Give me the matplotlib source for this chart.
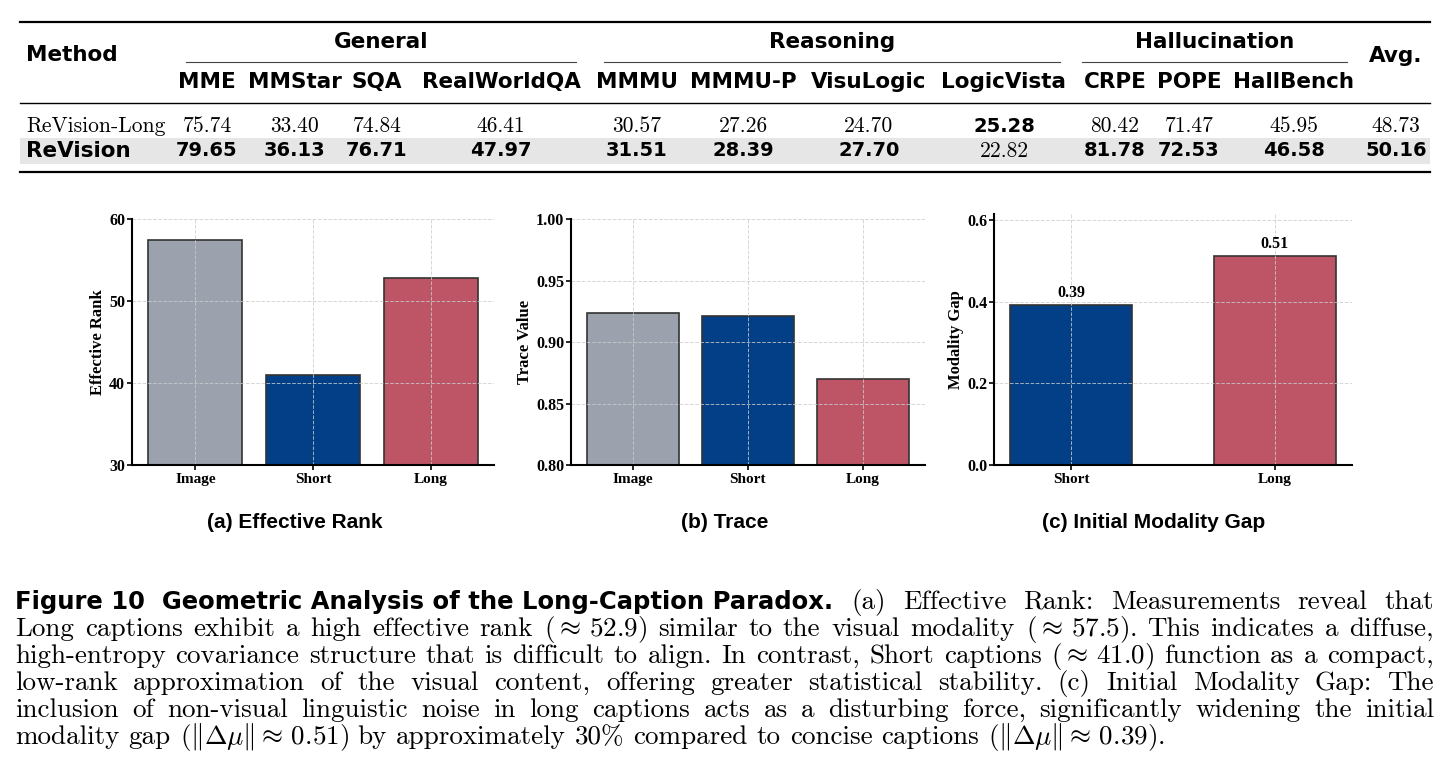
import matplotlib
matplotlib.use('Agg')
import matplotlib.pyplot as plt
from matplotlib.patches import Rectangle
from matplotlib.ticker import FormatStrFormatter

# ---- table: benchmark scores
benchmarks = ['MME', 'MMStar', 'SQA', 'RealWorldQA', 'MMMU', 'MMMU-P',
              'VisuLogic', 'LogicVista', 'CRPE', 'POPE', 'HallBench']
groups = ['General', 'Reasoning', 'Hallucination']
group_cols = [(0, 3), (4, 7), (8, 10)]
methods = ['ReVision-Long', 'ReVision']
scores_long = [75.74, 33.40, 74.84, 46.41, 30.57, 27.26, 24.70, 25.28, 80.42, 71.47, 45.95]
scores_full = [79.65, 36.13, 76.71, 47.97, 31.51, 28.39, 27.70, 22.82, 81.78, 72.53, 46.58]
avg_scores = [48.73, 50.16]

# ---- bar panels
rank_labels = ['Image', 'Short', 'Long']
rank_values = [57.5, 41.0, 52.9]
trace_labels = ['Image', 'Short', 'Long']
trace_values = [0.924, 0.921, 0.870]
gap_labels = ['Short', 'Long']
gap_values = [0.392, 0.512]

GRAY, NAVY, ROSE = '#9ba2ae', '#023f86', '#bd5566'
W, H = 1450, 775

plt.rcParams['font.family'] = 'Liberation Serif'
plt.rcParams['mathtext.fontset'] = 'cm'

fig = plt.figure(figsize=(W / 100, H / 100), dpi=100)
# overlay in pixel coordinates for the table and caption
ov = fig.add_axes([0, 0, 1, 1])
ov.set_xlim(0, W)
ov.set_ylim(H, 0)
ov.axis('off')

SANS = dict(family='DejaVu Sans', fontweight='bold')
CM = dict(family='cmr10')

# ---- table
col_x = [207, 295, 377, 501, 637, 743, 869, 1004, 1115, 1189, 1294]
avg_x = 1396
ov.add_patch(Rectangle((20, 138), 1410, 26, color='#e6e6e6', lw=0, zorder=0))
ov.plot([20, 1430], [22, 22], color='black', lw=1.6)
ov.plot([20, 1430], [103, 103], color='black', lw=1.0)
ov.plot([20, 1430], [172, 172], color='black', lw=1.6)
ov.text(26, 55, 'Method', ha='left', va='center', fontsize=15.5, **SANS)
ov.text(avg_x, 56, 'Avg.', ha='center', va='center', fontsize=15.5, **SANS)
for name, (a, b) in zip(groups, group_cols):
    left = col_x[a] - 21 if a == 0 else col_x[a] - 33
    right = col_x[b] + 75 if b == 3 else col_x[b] + 56
    if b == 10:
        right = 1347
    ov.plot([left, right], [62, 62], color='#444444', lw=0.8)
    ov.text((left + right) / 2, 42, name, ha='center', va='center', fontsize=15.5, **SANS)
for name, x in zip(benchmarks, col_x):
    ov.text(x, 82, name, ha='center', va='center', fontsize=15.5, **SANS)

rows = [scores_long, scores_full]
row_y = [126, 151]
for r, (method, vals, y) in enumerate(zip(methods, rows, row_y)):
    best_row = r == 1
    ov.text(26, y, method, ha='left', va='center',
            **(dict(fontsize=15.5, **SANS) if best_row else dict(fontsize=15.5, **CM)))
    for i, x in enumerate(col_x + [avg_x]):
        v = vals[i] if i < len(vals) else avg_scores[r]
        other = rows[1 - r][i] if i < len(vals) else avg_scores[1 - r]
        if v >= other:
            ov.text(x, y, f'{v:.2f}', ha='center', va='center', fontsize=14, **SANS)
        else:
            ov.text(x, y, f'{v:.2f}', ha='center', va='center', fontsize=15.5, **CM)


# ---- bar panels
def bar_panel(box, labels, values, colors, width, ylim, yticks, fmt, ylabel, annotate=False):
    l, r, t, b = box
    ax = fig.add_axes([l / W, 1 - b / H, (r - l) / W, (b - t) / H])
    bars = ax.bar(labels, values, width=width, color=colors,
                  edgecolor='#333333', linewidth=1.2)
    ax.set_ylim(*ylim)
    ax.set_yticks(yticks)
    ax.yaxis.set_major_formatter(FormatStrFormatter(fmt))
    ax.grid(True, linestyle='--', linewidth=0.7, color='#cccccc', alpha=0.8)
    for side in ['top', 'right']:
        ax.spines[side].set_visible(False)
    for side in ['left', 'bottom']:
        ax.spines[side].set_linewidth(1.5)
    ax.tick_params(direction='out', length=3.5, width=1.2, labelsize=11.5)
    ax.tick_params(axis='y', pad=1.5)
    ax.tick_params(axis='x', pad=2, labelsize=11)
    for lbl in ax.get_xticklabels() + ax.get_yticklabels():
        lbl.set_fontweight('bold')
    ax.set_ylabel(ylabel, fontsize=12, fontweight='bold', labelpad=2)
    if annotate:
        for bar, v in zip(bars, values):
            ax.annotate(f'{v:.2f}', (bar.get_x() + bar.get_width() / 2, v),
                        xytext=(0, 3), textcoords='offset points',
                        ha='center', va='bottom', fontsize=11.5, fontweight='bold')
    return ax


bar_panel((132, 494, 219.3, 465.3), rank_labels, rank_values, [GRAY, NAVY, ROSE], 0.8,
          (30, 60), [30, 40, 50, 60], '%d', 'Effective Rank')
bar_panel((571, 925, 219.3, 465.3), trace_labels, trace_values, [GRAY, NAVY, ROSE], 0.8,
          (0.80, 1.00), [0.80, 0.85, 0.90, 0.95, 1.00], '%.2f', 'Trace Value')
bar_panel((994, 1352, 214, 465.3), gap_labels, gap_values, [NAVY, ROSE], 0.6,
          (0, max(gap_values) * 1.2), [0.0, 0.2, 0.4, 0.6], '%.1f', 'Modality Gap',
          annotate=True)

for x, title in [(295, '(a) Effective Rank'), (725, '(b) Trace'),
                 (1154, '(c) Initial Modality Gap')]:
    ov.text(x, 523, title, ha='center', va='center', fontsize=15,
            family='Liberation Sans', fontweight='bold')

# ---- caption (justified lines)
renderer = fig.canvas.get_renderer()
CAP = 19.5


def place(tokens, x0, x1, y, justify=True):
    arts = [ov.text(0, y, t, va='baseline', fontsize=CAP, **CM) for t in tokens]
    widths = [a.get_window_extent(renderer).width for a in arts]
    gap = (x1 - x0 - sum(widths)) / (len(arts) - 1) if justify else CAP * 100 / 72 * 0.333
    x = x0
    for a, w in zip(arts, widths):
        a.set_x(x)
        x += w + gap


short_gap, long_gap = gap_values
lines = [
    '(a) Effective Rank: Measurements reveal that',
    f'Long captions exhibit a high effective rank $(\\approx\\,{rank_values[2]:.1f})$ similar to the '
    f'visual modality $(\\approx\\,{rank_values[0]:.1f}).$ This indicates a diffuse,',
    'high-entropy covariance structure that is difficult to align. In contrast, Short captions '
    f'$(\\approx\\,{rank_values[1]:.1f})$ function as a compact,',
    'low-rank approximation of the visual content, offering greater statistical stability. '
    '(c) Initial Modality Gap: The',
    'inclusion of non-visual linguistic noise in long captions acts as a disturbing force, '
    'significantly widening the initial',
    f'modality gap $(\\|\\Delta\\mu\\|\\approx\\,{long_gap:.2f})$ by approximately 30% compared to '
    f'concise captions $(\\|\\Delta\\mu\\|\\approx\\,{short_gap:.2f}).$',
]
X0, X1, Y0, DY = 15, 1434, 609, 27
head = ov.text(X0, Y0, 'Figure 10  Geometric Analysis of the Long-Caption Paradox.',
               va='baseline', fontsize=17.5, **SANS)
head_end = X0 + head.get_window_extent(renderer).width
for i, line in enumerate(lines):
    x0 = head_end + 18 if i == 0 else X0
    place(line.split(' '), x0, X1, Y0 + DY * i, justify=i < len(lines) - 1)

fig.savefig('out.png', dpi=100, facecolor='white')
